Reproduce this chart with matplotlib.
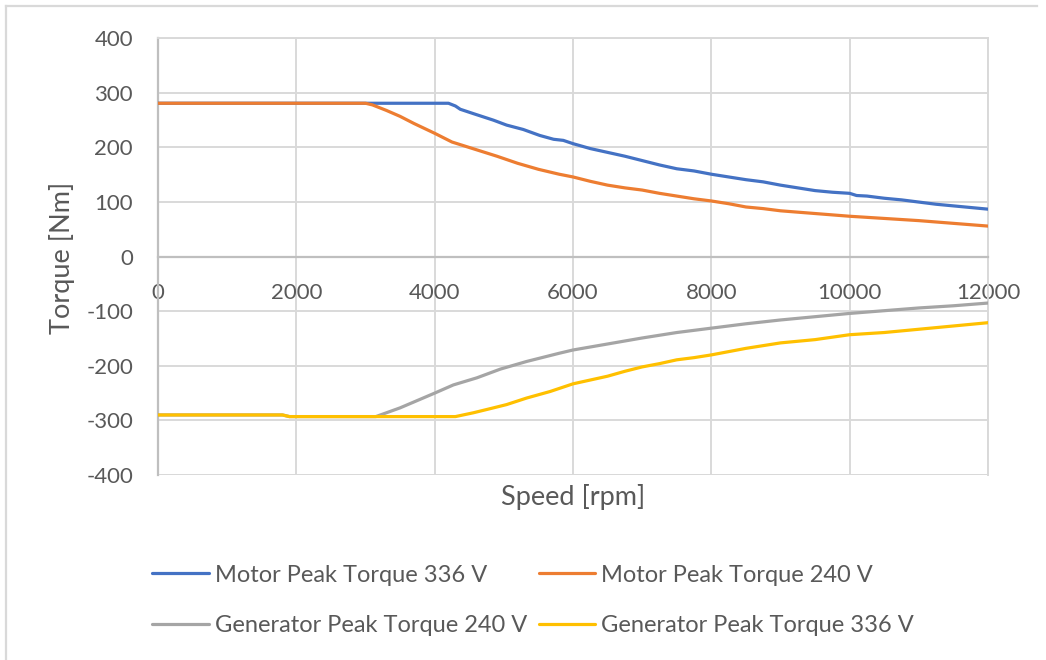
import matplotlib
matplotlib.use("Agg")
import matplotlib.pyplot as plt
from matplotlib.lines import Line2D

plt.rcParams['font.family'] = ['Lato', 'DejaVu Sans']
plt.rcParams['axes.unicode_minus'] = False

# Motor peak torque, 336 V supply
speed_m336 = [0, 4200, 4300, 4370, 4560, 4850, 5040, 5280, 5520, 5720, 5860, 6000, 6250, 6500,
              6750, 7000, 7250, 7500, 7750, 8000, 8250, 8500, 8750, 9000, 9250, 9500, 9750,
              10000, 10100, 10250, 10500, 10750, 11000, 11250, 11500, 11750, 12000]
torque_m336 = [281, 281, 276, 270, 262, 250, 241, 233, 222, 215, 213, 207, 198, 191,
               184, 176, 168, 161, 157, 151, 146, 141, 137, 131, 126, 121, 118,
               116, 112, 111, 107, 104, 100, 96, 93, 90, 87]

# Motor peak torque, 240 V supply
speed_m240 = [0, 3000, 3100, 3300, 3500, 3700, 4000, 4250, 4550, 4900, 5200, 5500, 5800, 6000,
              6250, 6500, 6750, 7000, 7250, 7500, 7750, 8000, 8250, 8500, 8750, 9000, 9500,
              10000, 10500, 11000, 11500, 12000]
torque_m240 = [281, 281, 278, 268, 257, 244, 226, 210, 198, 184, 171, 160, 151, 146,
               138, 131, 126, 122, 116, 111, 106, 102, 97, 91, 88, 84, 79,
               74, 70, 66, 61, 56]

# Generator peak torque, 240 V supply
speed_g240 = [0, 1800, 1900, 3150, 3500, 4000, 4270, 4610, 4950, 5330, 5800, 6000, 6500, 7000,
              7500, 8000, 8500, 9000, 9500, 10000, 10500, 11000, 11500, 12000]
torque_g240 = [-290, -290, -293, -293, -277, -250, -235, -222, -206, -192, -177, -171, -160, -149,
               -139, -131, -123, -116, -110, -104, -99, -94, -90, -85]

# Generator peak torque, 336 V supply
speed_g336 = [0, 1800, 1900, 4300, 4560, 4850, 5040, 5330, 5670, 6000, 6250, 6500, 6750, 7000,
              7250, 7500, 7750, 8000, 8250, 8500, 8750, 9000, 9500, 10000, 10500, 11000,
              11500, 12000]
torque_g336 = [-290, -290, -293, -293, -286, -277, -271, -259, -247, -233, -226, -219, -210, -202,
               -196, -189, -185, -180, -174, -168, -163, -158, -152, -143, -139, -133,
               -127, -121]

series_labels = ["Motor Peak Torque 336 V", "Motor Peak Torque 240 V",
                 "Generator Peak Torque 240 V", "Generator Peak Torque 336 V"]
x_ticks = [0, 2000, 4000, 6000, 8000, 10000, 12000]
y_ticks = [-400, -300, -200, -100, 0, 100, 200, 300, 400]

colors = ["#4472C4", "#ED7D31", "#A5A5A5", "#FFC000"]
text_color = "#595959"
grid_color = "#D9D9D9"
axis_color = "#BFBFBF"
fs_tick = 16
fs_title = 19.5
fs_legend = 17

W, H = 1046, 660
fig = plt.figure(figsize=(W / 100, H / 100), dpi=100)
fig.patch.set_facecolor("white")

ax = fig.add_axes([158 / W, 1 - 475 / H, (988 - 158) / W, (475 - 38.3) / H])
ax.set_xlim(0, 12000)
ax.set_ylim(-400, 400)
ax.set_xticks(x_ticks)
ax.set_yticks(y_ticks)
ax.grid(True, color=grid_color, linewidth=1.4)
ax.set_axisbelow(True)

for side in ("top", "right"):
    ax.spines[side].set_color(grid_color)
    ax.spines[side].set_linewidth(1.4)
ax.spines["bottom"].set_position(("data", 0))
ax.spines["bottom"].set_color(axis_color)
ax.spines["bottom"].set_linewidth(1.6)
ax.spines["left"].set_color(axis_color)
ax.spines["left"].set_linewidth(1.6)
# bottom edge of the plot area drawn as a gridline
ax.axhline(-400, color=grid_color, linewidth=1.4, zorder=0.5)

ax.tick_params(axis="both", length=0, labelsize=fs_tick, labelcolor=text_color)
ax.tick_params(axis="x", pad=19)
ax.tick_params(axis="y", pad=18)

for xs, ys, c, lab in [(speed_m336, torque_m336, colors[0], series_labels[0]),
                       (speed_m240, torque_m240, colors[1], series_labels[1]),
                       (speed_g240, torque_g240, colors[2], series_labels[2]),
                       (speed_g336, torque_g336, colors[3], series_labels[3])]:
    ax.plot(xs, ys, color=c, linewidth=2.3, solid_capstyle="round",
            solid_joinstyle="round", label=lab, zorder=3)

fig.text(62 / W, 1 - 258 / H, "Torque [Nm]", rotation=90, ha="center", va="center",
         fontsize=fs_title, color=text_color)
fig.text(573 / W, 1 - 497 / H, "Speed [rpm]", ha="center", va="center",
         fontsize=fs_title, color=text_color)

order = [0, 2, 1, 3]
handles = [Line2D([0], [0], color=colors[i], linewidth=2.3, solid_capstyle="round") for i in order]
fig.legend(handles, [series_labels[i] for i in order], ncol=2, loc="center left",
           bbox_to_anchor=(152 / W, 1 - 600.5 / H), frameon=False, fontsize=fs_legend,
           labelcolor=text_color, handlelength=2.4, handletextpad=0.25,
           columnspacing=0.5, labelspacing=1.25, borderpad=0, borderaxespad=0)

# outer chart border (top and left edges)
fig.add_artist(Line2D([6 / W, 1037 / W], [1 - 6 / H, 1 - 6 / H], color=grid_color,
                      linewidth=1.6, transform=fig.transFigure))
fig.add_artist(Line2D([6 / W, 6 / W], [1 - 6 / H, 0], color=grid_color,
                      linewidth=1.6, transform=fig.transFigure))

fig.savefig("out.png", dpi=100)
